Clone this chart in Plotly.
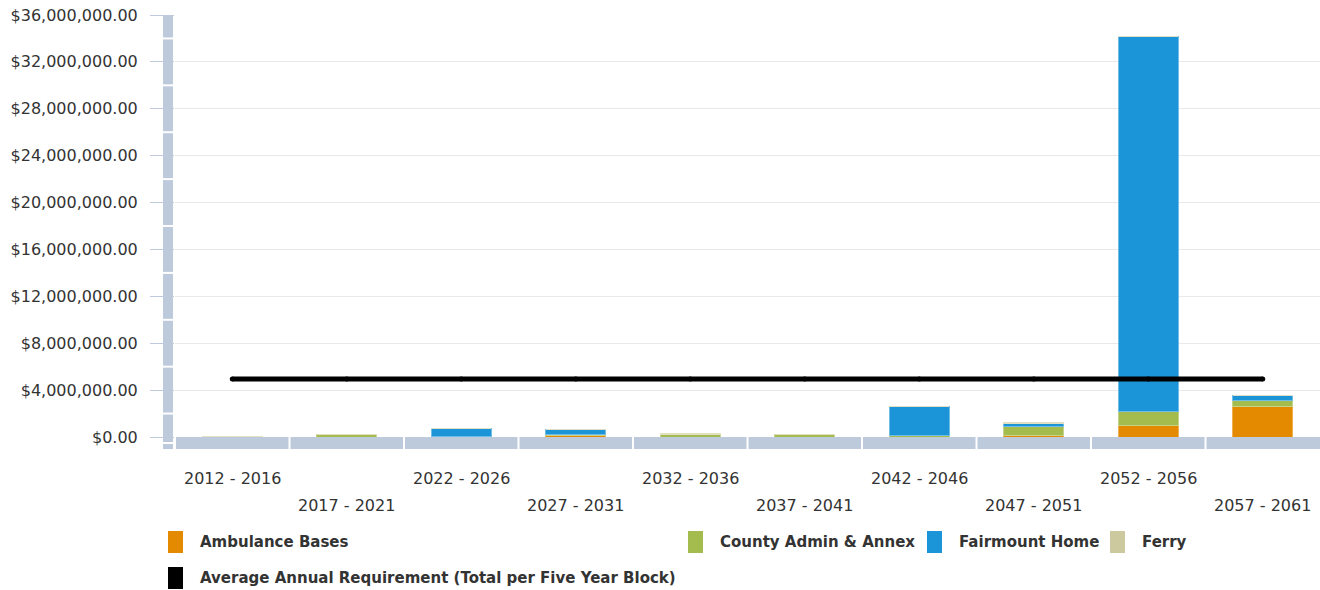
import plotly.graph_objects as go

# ---------------- data ----------------
periods = ["2012 - 2016", "2017 - 2021", "2022 - 2026", "2027 - 2031", "2032 - 2036",
           "2037 - 2041", "2042 - 2046", "2047 - 2051", "2052 - 2056", "2057 - 2061"]
ambulance_bases = [0, 0, 0, 120000, 0, 0, 0, 90000, 940000, 2580000]
county_admin = [0, 230000, 80000, 100000, 220000, 200000, 150000, 790000, 1220000, 512000]
fairmount_home = [0, 0, 680000, 440000, 0, 0, 2430000, 290000, 32040000, 427000]
ferry = [80000, 0, 0, 0, 40000, 0, 0, 80000, 0, 0]
average_requirement = [4950000] * len(periods)
y_ticks = [0, 4000000, 8000000, 12000000, 16000000, 20000000, 24000000, 28000000, 32000000, 36000000]

# ---------------- styling / geometry ----------------
W, H = 1320, 590
ML, MR, MT, MB = 175, 0, 15, 153
PW, PH = W - ML - MR, H - MT - MB
PLOT_BOTTOM = H - MB
PLOT_LEFT = ML
FONT = "DejaVu Sans"
AXIS_BLUE = "#bccadb"
C_AMB, C_CTY, C_FAIR, C_FERRY = "#e38a00", "#a4bb4d", "#1c94d8", "#cbc99d"
TXT = "#333333"


def px_x(px):
    return (px - PLOT_LEFT) / PW


def px_y(py):
    return (PLOT_BOTTOM - py) / PH


fig = go.Figure()
series = [
    ("Ambulance Bases", ambulance_bases, C_AMB, "#f0b050"),
    ("County Admin & Annex", county_admin, C_CTY, "#c4d48a"),
    ("Fairmount Home", fairmount_home, C_FAIR, "#70bdea"),
    ("Ferry", ferry, C_FERRY, "#e2e0c4"),
]
for name, vals, col, edge in series:
    fig.add_trace(go.Bar(x=periods, y=vals, name=name, marker=dict(color=col, line=dict(color=edge, width=1))))

fig.add_trace(go.Scatter(x=periods, y=average_requirement, mode="lines+markers",
                         name="Average Annual Requirement (Total per Five Year Block)",
                         line=dict(color="black", width=5),
                         marker=dict(color="black", size=5, line=dict(width=0))))

shapes = []
# vertical axis bar
shapes.append(dict(type="rect", xref="paper", yref="paper", x0=px_x(163), x1=px_x(173),
                   y0=px_y(449), y1=1, fillcolor=AXIS_BLUE, line=dict(width=0), layer="below"))
ymax = y_ticks[-1]
for a, b in zip(y_ticks[:-1], y_ticks[1:]):
    m = (a + b) / 2 / ymax
    shapes.append(dict(type="rect", xref="paper", yref="paper", x0=px_x(162), x1=px_x(174),
                       y0=m - 1 / PH, y1=m + 1 / PH, fillcolor="white", line=dict(width=0), layer="below"))
shapes.append(dict(type="rect", xref="paper", yref="paper", x0=px_x(162), x1=px_x(174),
                   y0=px_y(444), y1=px_y(442), fillcolor="white", line=dict(width=0), layer="below"))
# horizontal axis bar
shapes.append(dict(type="rect", xref="paper", yref="paper", x0=px_x(176), x1=1,
                   y0=px_y(449), y1=px_y(437), fillcolor=AXIS_BLUE, line=dict(width=0), layer="below"))
n = len(periods)
for i in range(1, n):
    xb = i / n
    shapes.append(dict(type="rect", xref="paper", yref="paper", x0=xb - 1 / PW, x1=xb + 1 / PW,
                       y0=px_y(450), y1=px_y(436), fillcolor="white", line=dict(width=0), layer="below"))

annotations = []
for i, p in enumerate(periods):
    annotations.append(dict(x=p, xref="x", y=0, yref="paper", yshift=-(41 if i % 2 == 0 else 68),
                            text=p, showarrow=False, yanchor="middle", xanchor="center",
                            font=dict(family=FONT, size=16, color=TXT)))

# manual legend
legend_items = [
    ("Ambulance Bases", C_AMB, 168, 542),
    ("County Admin & Annex", C_CTY, 688, 542),
    ("Fairmount Home", C_FAIR, 927, 542),
    ("Ferry", C_FERRY, 1110, 542),
    ("Average Annual Requirement (Total per Five Year Block)", "black", 168, 578),
]
for text, col, lx, ly in legend_items:
    shapes.append(dict(type="rect", xref="paper", yref="paper", x0=px_x(lx), x1=px_x(lx + 15),
                       y0=px_y(ly + 11), y1=px_y(ly - 11), fillcolor=col, line=dict(width=0)))
    annotations.append(dict(x=px_x(lx + 30), xref="paper", y=px_y(ly), yref="paper", text="<b>" + text + "</b>",
                            showarrow=False, xanchor="left", yanchor="middle",
                            font=dict(family=FONT, size=15, color=TXT)))

fig.update_layout(
    width=W, height=H, margin=dict(l=ML, r=MR, t=MT, b=MB, autoexpand=False),
    barmode="stack", bargap=0.48, showlegend=False,
    plot_bgcolor="white", paper_bgcolor="white",
    font=dict(family=FONT, size=16, color=TXT),
    shapes=shapes, annotations=annotations,
    xaxis=dict(showticklabels=False, ticks="", showgrid=False, zeroline=False, showline=False,
               range=[-0.5, n - 0.5], automargin=False),
    yaxis=dict(range=[0, ymax], tickvals=y_ticks, tickformat="$,.2f", showgrid=True,
               gridcolor="#e8e8e8", gridwidth=1, zeroline=False, showline=False,
               ticks="outside", ticklen=24, tickcolor=AXIS_BLUE, tickwidth=1,
               ticklabelstandoff=9, ticklabeloverflow="allow", automargin=False,
               tickfont=dict(family=FONT, size=16, color=TXT)),
)

fig.write_html("out.html", config={"displayModeBar": False},
               post_script="document.body.style.margin='0px';document.body.style.overflow='hidden';")
